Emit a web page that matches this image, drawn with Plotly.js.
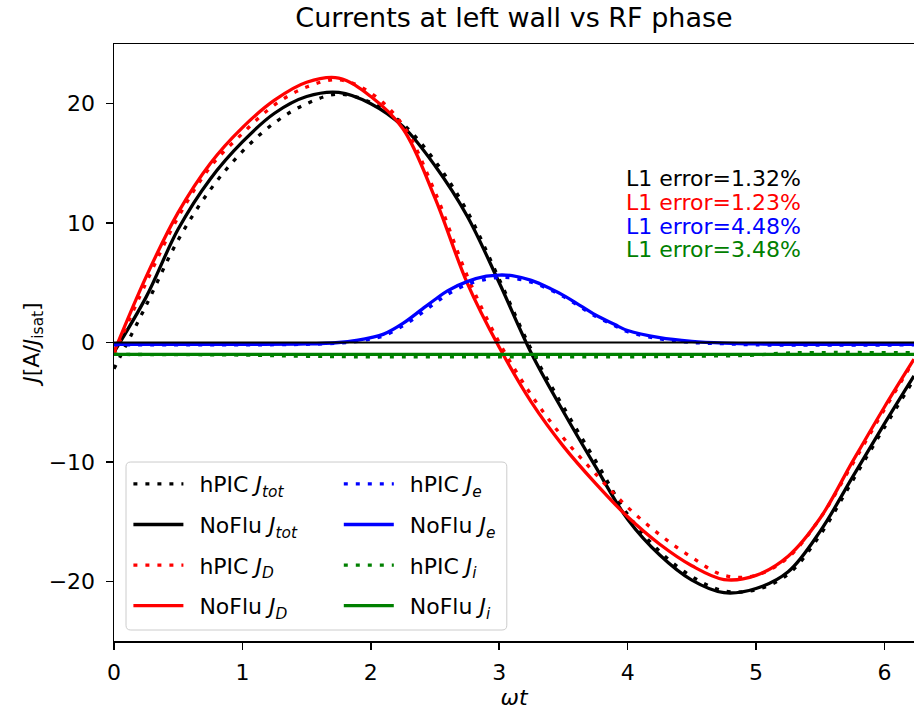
<!DOCTYPE html>
<html>
<head>
<meta charset="utf-8">
<script src="https://cdn.plot.ly/plotly-3.0.1.min.js"></script>
<style>html,body{margin:0;padding:0;background:#fff;overflow:hidden;}</style>
</head>
<body>
<div id="chart" style="width:914px;height:712px;"></div>
<script>
// ---- data ----
const xGrid = [0, 0.25, 0.5, 0.75, 1.0, 1.25, 1.5, 1.75, 2.0, 2.25, 2.5, 2.75, 3.0, 3.25, 3.5, 3.75, 4.0, 4.25, 4.5, 4.75, 5.0, 5.25, 5.5, 5.75, 6.0, 6.23];
const hpicJtot  = [-2.2, 3.1, 8.6, 12.8, 16.0, 18.4, 20.0, 20.8, 20.1, 18.3, 15.2, 11.0, 5.3, -0.6, -5.4, -9.9, -14.4, -17.5, -19.6, -20.8, -20.7, -19.4, -16.1, -11.6, -7.1, -3.1];
const nofluJtot = [-0.8, 3.8, 9.5, 13.7, 16.8, 19.2, 20.6, 20.95, 20.0, 18.1, 14.8, 10.6, 5.0, -0.9, -5.8, -10.4, -14.8, -17.8, -19.9, -20.95, -20.6, -19.2, -15.8, -11.3, -6.8, -2.8];
const hpicJD    = [-1.0, 5.0, 10.5, 14.7, 17.5, 19.9, 21.4, 22.0, 20.9, 18.2, 12.6, 5.6, 0.0, -4.4, -8.0, -11.0, -13.8, -16.1, -18.0, -19.5, -19.5, -18.0, -14.7, -10.2, -5.6, -1.5];
const nofluJD   = [-0.8, 5.5, 10.9, 15.0, 18.0, 20.3, 21.8, 22.15, 20.6, 17.9, 12.1, 5.0, -0.4, -5.0, -8.7, -11.8, -14.6, -16.9, -18.7, -19.85, -19.5, -17.9, -14.7, -10.0, -5.4, -1.4];

const xE       = [0, 1.0, 1.5, 1.75, 1.9, 2.0, 2.1, 2.25, 2.4, 2.5, 2.6, 2.75, 2.9, 3.0, 3.1, 3.25, 3.4, 3.5, 3.6, 3.75, 3.9, 4.0, 4.25, 4.5, 4.75, 5.0, 6.23];
const nofluJe  = [-0.15, -0.15, -0.12, 0.0, 0.2, 0.4, 0.7, 1.6, 2.8, 3.6, 4.35, 5.1, 5.55, 5.65, 5.6, 5.2, 4.5, 3.95, 3.3, 2.3, 1.5, 1.0, 0.4, 0.1, -0.05, -0.12, -0.15];
const hpicJe   = [-0.2, -0.2, -0.15, -0.05, 0.1, 0.3, 0.55, 1.4, 2.5, 3.3, 4.05, 4.85, 5.3, 5.45, 5.4, 5.05, 4.4, 3.85, 3.2, 2.2, 1.4, 0.9, 0.3, 0.0, -0.1, -0.2, -0.2];

const xI       = [0, 1.0, 1.5, 2.0, 3.0, 4.0, 4.5, 5.0, 5.2, 5.4, 6.23];
const nofluJi  = [-1.0, -1.0, -1.0, -1.0, -1.0, -1.0, -1.0, -1.0, -1.0, -1.0, -1.0];
const hpicJi   = [-1.0, -1.05, -1.15, -1.2, -1.2, -1.2, -1.15, -1.05, -0.9, -0.85, -0.85];

const xZero = [0, 6.23];
const yZero = [0, 0];

const xTicks = [0, 1, 2, 3, 4, 5, 6];
const yTicks = [-20, -10, 0, 10, 20];

const errLabels = ['L1 error=1.32%', 'L1 error=1.23%', 'L1 error=4.48%', 'L1 error=3.48%'];
const errY = [13.75, 11.75, 9.75, 7.75];
const errX = 3.97;
const errColors = ['#000000', '#ff0000', '#0000ff', '#008000'];

// ---- styles ----
const DOT = '4px,8px';
const LW = 3.3;
const GAP = '\u2002';
function tr(x, y, name, color, dotted, legend, grp) {
  return {
    x: x, y: y, name: GAP + name, type: 'scatter', mode: 'lines',
    line: {color: color, width: LW, dash: dotted ? DOT : 'solid', shape: 'spline', smoothing: 1},
    legend: legend, legendgroup: grp, hoverinfo: 'skip'
  };
}
const traces = [
  tr(xGrid, hpicJtot,  'hPIC <i>J<sub>tot</sub></i>',  '#000000', true,  'legend',  'a1'),
  tr(xGrid, nofluJtot, 'NoFlu <i>J<sub>tot</sub></i>', '#000000', false, 'legend',  'a2'),
  tr(xGrid, hpicJD,    'hPIC <i>J<sub>D</sub></i>',    '#ff0000', true,  'legend',  'a3'),
  tr(xGrid, nofluJD,   'NoFlu <i>J<sub>D</sub></i>',   '#ff0000', false, 'legend',  'a4'),
  tr(xE, hpicJe,       'hPIC <i>J<sub>e</sub></i>',    '#0000ff', true,  'legend2', 'b1'),
  tr(xE, nofluJe,      'NoFlu <i>J<sub>e</sub></i>',   '#0000ff', false, 'legend2', 'b2'),
  tr(xI, hpicJi,       'hPIC <i>J<sub>i</sub></i>',    '#008000', true,  'legend2', 'b3'),
  tr(xI, nofluJi,      'NoFlu <i>J<sub>i</sub></i>',   '#008000', false, 'legend2', 'b4'),
  {x: xZero, y: yZero, type: 'scatter', mode: 'lines', showlegend: false,
   line: {color: '#000000', width: 2.2}, hoverinfo: 'skip'}
];

const FONT = 'DejaVu Sans';
const annotations = errLabels.map((t, i) => ({
  x: errX, y: errY[i], xref: 'x', yref: 'y', text: t, showarrow: false,
  xanchor: 'left', yanchor: 'middle', font: {family: FONT, size: 22, color: errColors[i]}
}));

// rounded legend frame in paper coords
const fx0 = 0.015, fx1 = 0.491, fy0 = 0.0184, fy1 = 0.2998, rx = 0.006, ry = 0.008;
const framePath = `M ${fx0+rx},${fy0} L ${fx1-rx},${fy0} Q ${fx1},${fy0} ${fx1},${fy0+ry} L ${fx1},${fy1-ry} Q ${fx1},${fy1} ${fx1-rx},${fy1} L ${fx0+rx},${fy1} Q ${fx0},${fy1} ${fx0},${fy1-ry} L ${fx0},${fy0+ry} Q ${fx0},${fy0} ${fx0+rx},${fy0} Z`;

const legendCommon = {
  xanchor: 'left', yanchor: 'top', bgcolor: 'rgba(0,0,0,0)', borderwidth: 0,
  font: {family: FONT, size: 22, color: '#000'}, traceorder: 'grouped',
  tracegroupgap: 9, itemwidth: 50
};

const axisCommon = {
  showline: true, linecolor: '#000', linewidth: 1.5, ticks: 'outside', ticklen: 7,
  tickwidth: 1.5, tickcolor: '#000', showgrid: false, zeroline: false,
  tickfont: {family: FONT, size: 22, color: '#000'}, automargin: false
};

const layout = {
  width: 914, height: 712,
  margin: {l: 114, r: 0, t: 44, b: 71, pad: 0},
  paper_bgcolor: '#fff', plot_bgcolor: '#fff',
  font: {family: FONT, size: 22, color: '#000'},
  title: {text: 'Currents at left wall vs RF phase', font: {family: FONT, size: 27, color: '#000'},
          x: 0.5, xref: 'paper', y: 1 - 18/712, yref: 'container', yanchor: 'middle'},
  xaxis: Object.assign({}, axisCommon, {range: [0, 6.23], tickvals: xTicks, mirror: true, ticklabelstandoff: 4,
          title: {text: '<i>ωt</i>', standoff: 4, font: {family: FONT, size: 22, color: '#000'}}}),
  yaxis: Object.assign({}, axisCommon, {range: [-25, 25], tickvals: yTicks, mirror: false, ticklabelstandoff: 6,
          title: {text: '<i>J</i>[A/<i>J</i><sub>isat</sub>]', standoff: 3, font: {family: FONT, size: 22, color: '#000'}}}),
  legend: Object.assign({}, legendCommon, {x: 0.018, y: 0.298}),
  legend2: Object.assign({}, legendCommon, {x: 0.281, y: 0.298}),
  shapes: [{type: 'path', xref: 'paper', yref: 'paper', path: framePath, layer: 'above',
            fillcolor: 'rgba(255,255,255,0.8)', line: {color: '#cccccc', width: 1}}],
  annotations: annotations,
  showlegend: true
};

Plotly.newPlot('chart', traces, layout, {displayModeBar: false, staticPlot: true});
</script>
</body>
</html>
